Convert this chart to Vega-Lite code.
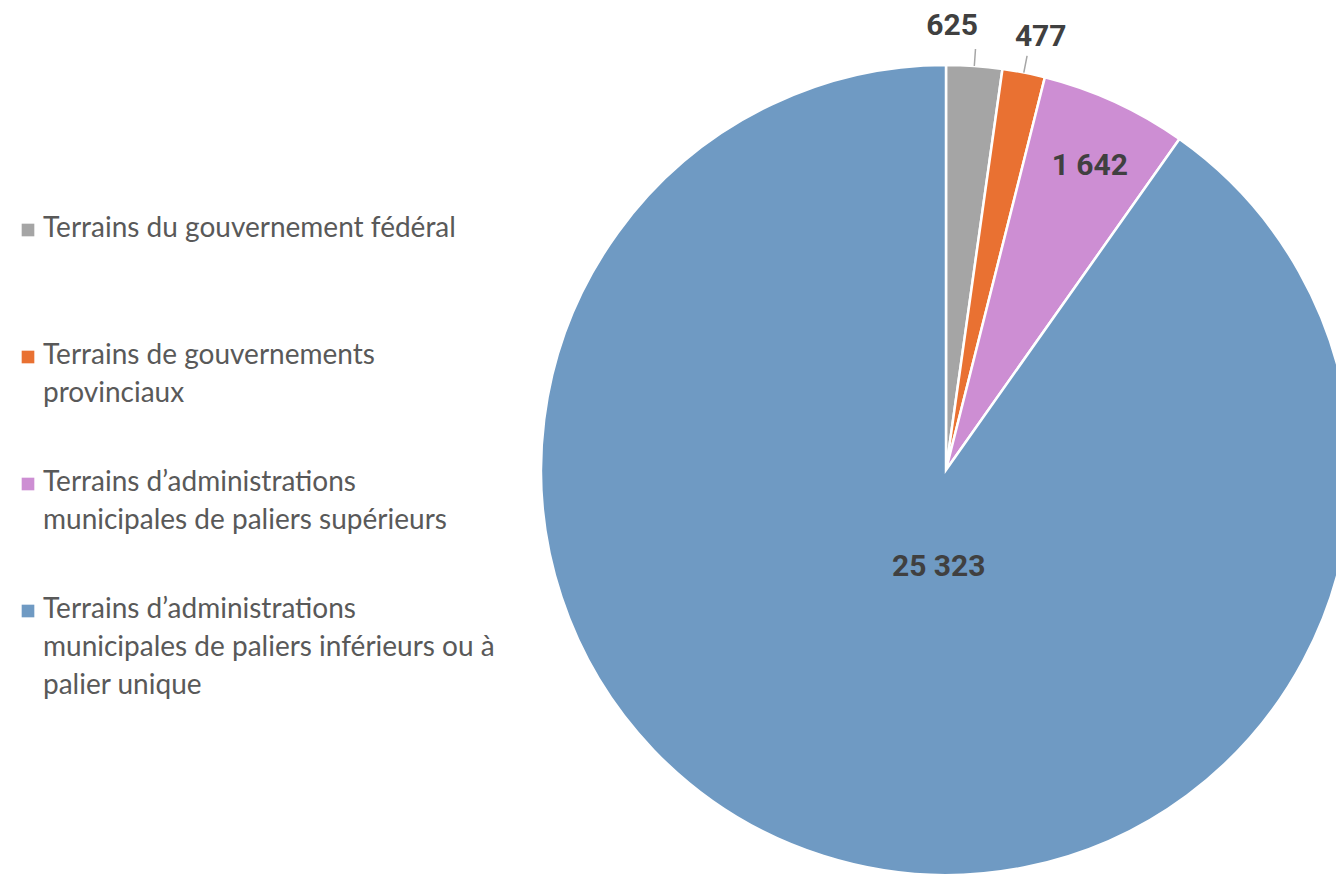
{
  "$schema": "https://vega.github.io/schema/vega-lite/v6.json",
  "width": 1336,
  "height": 874,
  "autosize": "none",
  "padding": 0,
  "background": "white",
  "config": {"view": {"stroke": null}, "style": {"guide-label": {"lineHeight": 38, "dy": -15}}},
  "data": {
    "values": [
      {"cat": "Terrains du gouvernement fédéral", "valeur": 625, "ordre": 1, "etiquette": "625"},
      {"cat": "Terrains de gouvernements provinciaux", "valeur": 477, "ordre": 2, "etiquette": "477"},
      {"cat": "Terrains d’administrations municipales de paliers supérieurs", "valeur": 1642, "ordre": 3, "etiquette": "1 642"},
      {"cat": "Terrains d’administrations municipales de paliers inférieurs ou à palier unique", "valeur": 25323, "ordre": 4, "etiquette": "25 323"}
    ]
  },
  "transform": [
    {"window": [{"op": "sum", "field": "valeur", "as": "cumul"}], "sort": [{"field": "ordre"}], "frame": [null, 0]},
    {"calculate": "datum.cumul - datum.valeur / 2", "as": "milieu"}
  ],
  "layer": [
    {
      "mark": {"type": "arc", "x": 946, "y": 470, "outerRadius": 405, "stroke": "white", "strokeWidth": 2.5},
      "encoding": {
        "theta": {"field": "valeur", "type": "quantitative", "stack": true},
        "order": {"field": "ordre", "type": "quantitative"},
        "color": {
          "field": "cat",
          "type": "nominal",
          "sort": null,
          "scale": {
            "domain": [
              "Terrains du gouvernement fédéral",
              "Terrains de gouvernements provinciaux",
              "Terrains d’administrations municipales de paliers supérieurs",
              "Terrains d’administrations municipales de paliers inférieurs ou à palier unique"
            ],
            "range": ["#a5a5a5", "#e97132", "#cd8ed3", "#6f9ac3"]
          },
          "legend": {
            "title": null,
            "orient": "none",
            "legendX": 14,
            "legendY": 216,
            "padding": 0,
            "symbolType": "square",
            "symbolSize": 160,
            "symbolStrokeWidth": 0,
            "labelFont": "Lato",
            "labelFontSize": 28,
            "labelColor": "#595959",
            "labelLimit": 800,
            "labelOffset": 1,
            "labelBaseline": "top",
            "rowPadding": 23,
            "labelExpr": "datum.label == 'Terrains de gouvernements provinciaux' ? ['Terrains de gouvernements', 'provinciaux', ''] : datum.label == 'Terrains d’administrations municipales de paliers supérieurs' ? ['Terrains d’administrations', 'municipales de paliers supérieurs', ''] : datum.label == 'Terrains d’administrations municipales de paliers inférieurs ou à palier unique' ? ['Terrains d’administrations', 'municipales de paliers inférieurs ou à', 'palier unique'] : [datum.label, '', '']"
          }
        }
      }
    },
    {
      "transform": [{"filter": "datum.valeur < 1000"}],
      "mark": {"type": "arc", "x": 946, "y": 470, "innerRadius": 405, "outerRadius": 422, "stroke": "#a6a6a6", "strokeWidth": 1.5, "fill": null},
      "encoding": {
        "theta": {"field": "milieu", "type": "quantitative", "stack": null},
        "theta2": {"field": "milieu"}
      }
    },
    {
      "transform": [{"filter": "datum.ordre == 1"}],
      "mark": {"type": "text", "x": 946, "y": 470, "radius": 445, "dx": -25, "font": "Roboto", "fontSize": 30, "fontWeight": "bold", "fill": "#404040", "align": "center", "baseline": "middle"},
      "encoding": {"theta": {"field": "milieu", "type": "quantitative", "stack": null}, "text": {"field": "etiquette"}}
    },
    {
      "transform": [{"filter": "datum.ordre == 2"}],
      "mark": {"type": "text", "x": 946, "y": 470, "radius": 441, "dx": 10, "font": "Roboto", "fontSize": 30, "fontWeight": "bold", "fill": "#404040", "align": "center", "baseline": "middle"},
      "encoding": {"theta": {"field": "milieu", "type": "quantitative", "stack": null}, "text": {"field": "etiquette"}}
    },
    {
      "transform": [{"filter": "datum.ordre == 3"}],
      "mark": {"type": "text", "x": 946, "y": 470, "radius": 335, "dx": 4, "font": "Roboto", "fontSize": 30, "fontWeight": "bold", "fill": "#404040", "align": "center", "baseline": "middle"},
      "encoding": {"theta": {"field": "milieu", "type": "quantitative", "stack": null}, "text": {"field": "etiquette"}}
    },
    {
      "transform": [{"filter": "datum.ordre == 4"}],
      "mark": {"type": "text", "x": 946, "y": 470, "radius": 97, "dx": 22, "dy": 5, "font": "Roboto", "fontSize": 30, "fontWeight": "bold", "fill": "#404040", "align": "center", "baseline": "middle"},
      "encoding": {"theta": {"field": "milieu", "type": "quantitative", "stack": null}, "text": {"field": "etiquette"}}
    }
  ]
}
